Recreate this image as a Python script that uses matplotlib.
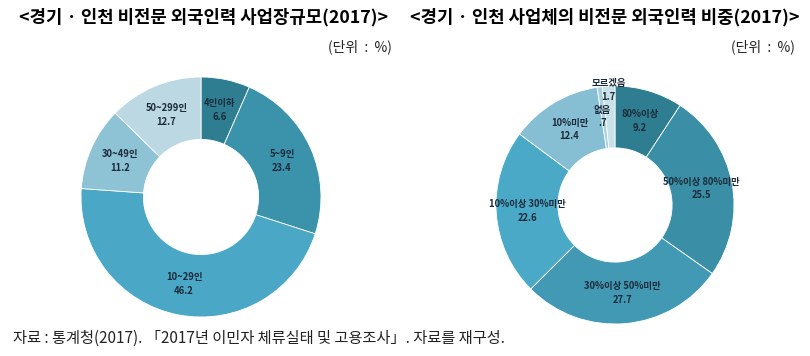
import numpy as np
import matplotlib.pyplot as plt

plt.rcParams['font.family'] = ['Noto Sans CJK KR', 'DejaVu Sans']

# left donut: workplace size
size_labels = ['4인이하', '5~9인', '10~29인', '30~49인', '50~299인']
size_values = [6.6, 23.4, 46.2, 11.2, 12.7]
size_colors = ['#2f7d91', '#3b93ab', '#4aa8c6', '#8ec3d5', '#bcd8e3']

# right donut: share of foreign workers in firm
share_labels = ['80%이상', '50%이상 80%미만', '30%이상 50%미만', '10%이상 30%미만',
                '10%미만', '없음', '모르겠음']
share_values = [9.2, 25.5, 27.7, 22.6, 12.4, 0.7, 1.7]
share_value_text = ['9.2', '25.5', '27.7', '22.6', '12.4', '.7', '1.7']
share_colors = ['#2f7d90', '#3a8fa6', '#4299b4', '#4aa9c6', '#86bfd3', '#a9d0de', '#c9e1e9']

W, H = 810, 356
fig = plt.figure(figsize=(W / 100, H / 100), dpi=100)


def donut_axes(cx, cy, r):
    ax = fig.add_axes([(cx - r) / W, (H - cy - r) / H, 2 * r / W, 2 * r / H])
    return ax


def draw_donut(ax, values, colors):
    wedges, _ = ax.pie(values, colors=colors, startangle=90, counterclock=False,
                       radius=1.0, wedgeprops=dict(width=0.52, edgecolor='white', linewidth=0.6))
    ax.set_xlim(-1, 1)
    ax.set_ylim(-1, 1)
    ax.set_aspect('equal')
    ax.axis('off')
    return wedges


lab_kw = dict(ha='center', va='center', fontsize=6.8, fontweight='bold', color='#1c2b3a')
gap = 0.058

# left donut
ax1 = donut_axes(201, 197, 120)
w1 = draw_donut(ax1, size_values, size_colors)
for w, name, v in zip(w1, size_labels, size_values):
    ang = np.deg2rad((w.theta1 + w.theta2) / 2)
    x, y = 0.74 * np.cos(ang), 0.74 * np.sin(ang)
    ax1.text(x, y + gap, name, **lab_kw)
    ax1.text(x, y - gap, f'{v}', **lab_kw)

# right donut
ax2 = donut_axes(615, 205, 119)
w2 = draw_donut(ax2, share_values, share_colors)
for i, (w, name, v) in enumerate(zip(w2, share_labels, share_value_text)):
    ang = np.deg2rad((w.theta1 + w.theta2) / 2)
    r = 0.74
    dx = 0
    if name == '모르겠음':
        r, dx = 0.97, 0.0
    elif name == '없음':
        r, dx = 0.75, -0.01
    x, y = r * np.cos(ang) + dx, r * np.sin(ang)
    ax2.text(x, y + gap, name, **lab_kw)
    ax2.text(x, y - gap, v, **lab_kw)

# titles
title_kw = dict(ha='center', va='center', fontsize=12.8, fontweight='bold', color='black')
fig.text(204 / W, 1 - 17 / H, '<경기 · 인천 비전문 외국인력 사업장규모(2017)>', **title_kw)
fig.text(605 / W, 1 - 17 / H, '<경기 · 인천 사업체의 비전문 외국인력 비중(2017)>', **title_kw)

unit_kw = dict(ha='right', va='center', fontsize=10, color='#222222')
fig.text(392 / W, 1 - 47 / H, '(단위  :  %)', **unit_kw)
fig.text(795 / W, 1 - 47 / H, '(단위  :  %)', **unit_kw)

fig.text(13 / W, 1 - 338 / H, '자료 : 통계청(2017). 「2017년 이민자 체류실태 및 고용조사」. 자료를 재구성.',
         ha='left', va='center', fontsize=11, color='#222222')

fig.savefig('out.png', dpi=100)
